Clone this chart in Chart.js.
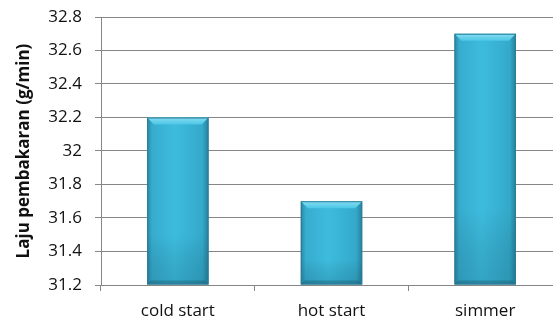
<!DOCTYPE html>
<html><head><meta charset="utf-8">
<script src="https://cdn.jsdelivr.net/npm/chart.js@4"></script>
<style>
html,body{margin:0;padding:0;background:#fff;overflow:hidden;width:553px;height:322px;}
#wrap{position:absolute;left:0;top:0;width:562px;height:322px;}
</style></head>
<body>
<div id="wrap"><canvas id="c" width="562" height="322"></canvas></div>
<script>
const categories = ["cold start", "hot start", "simmer"];
const burnRate = [32.2, 31.7, 32.7];
const yTickMin = 31.2, yTickMax = 32.8, yTickStep = 0.2;
const yTitle = "Laju pembakaran (g/min)";

const bevel = {
  id: 'bevel',
  afterDatasetsDraw(chart) {
    const ctx = chart.ctx;
    chart.getDatasetMeta(0).data.forEach(el => {
      const l = el.x - el.width / 2, r = el.x + el.width / 2;
      const t = el.y, b = el.base, d = 7;
      ctx.save();
      const g = ctx.createLinearGradient(l, 0, r, 0);
      g.addColorStop(0, '#2a86a3');
      g.addColorStop(0.08, '#37acce');
      g.addColorStop(0.45, '#3dbcde');
      g.addColorStop(0.9, '#34a9ca');
      g.addColorStop(1, '#26809c');
      ctx.fillStyle = g;
      ctx.fillRect(l, t, r - l, b - t);
      const gv = ctx.createLinearGradient(0, t, 0, b);
      gv.addColorStop(0, 'rgba(0,0,0,0)');
      gv.addColorStop(0.7, 'rgba(0,0,0,0)');
      gv.addColorStop(1, 'rgba(10,60,80,0.18)');
      ctx.fillStyle = gv;
      ctx.fillRect(l, t, r - l, b - t);
      ctx.beginPath();
      ctx.moveTo(l, t); ctx.lineTo(r, t); ctx.lineTo(r - d, t + d); ctx.lineTo(l + d, t + d); ctx.closePath();
      const gt = ctx.createLinearGradient(0, t, 0, t + d);
      gt.addColorStop(0, '#86def3'); gt.addColorStop(1, '#4cc6e6');
      ctx.fillStyle = gt; ctx.fill();
      ctx.beginPath();
      ctx.moveTo(l, b); ctx.lineTo(r, b); ctx.lineTo(r - 4, b - 4); ctx.lineTo(l + 4, b - 4); ctx.closePath();
      ctx.fillStyle = 'rgba(20,80,100,0.35)'; ctx.fill();
      ctx.strokeStyle = '#2a7d96'; ctx.lineWidth = 1;
      ctx.strokeRect(l + 0.5, t + 0.5, r - l - 1, b - t - 1);
      ctx.restore();
    });
  }
};

new Chart(document.getElementById('c'), {
  type: 'bar',
  data: {
    labels: categories,
    datasets: [{
      data: burnRate,
      backgroundColor: 'rgba(0,0,0,0)',
      borderWidth: 0,
      barPercentage: 0.4,
      categoryPercentage: 1.0,
      base: yTickMin
    }]
  },
  plugins: [bevel],
  options: {
    responsive: false,
    animation: false,
    devicePixelRatio: 1,
    layout: { padding: 0 },
    plugins: { legend: { display: false }, tooltip: { enabled: false } },
    scales: {
      x: {
        offset: true,
        grid: { display: true, drawOnChartArea: false, drawTicks: true, tickLength: 6, color: '#868686', offset: true },
        border: { display: true, color: '#868686', width: 1 },
        ticks: { color: '#111', font: { family: 'Open Sans', size: 17 }, padding: 10 },
        afterFit(s) { s.height = 37; s.paddingLeft = 0; s.paddingRight = 0; }
      },
      y: {
        min: yTickMin, max: yTickMax,
        grid: { color: '#868686', tickLength: 6, drawTicks: true },
        border: { display: true, color: '#868686', width: 1 },
        ticks: {
          stepSize: yTickStep, color: '#111', autoSkip: false,
          font: { family: 'Open Sans', size: 17 }, padding: 13,
          callback: v => String(Math.round(v * 10) / 10)
        },
        title: { display: true, text: yTitle, color: '#111', font: { family: 'Open Sans', size: 17, weight: 'bold' }, padding: { top: 14, bottom: 0 } },
        afterFit(s) { s.width = 101; s.paddingTop = 17; s.paddingBottom = 0; }
      }
    }
  }
});
</script>
</body></html>
